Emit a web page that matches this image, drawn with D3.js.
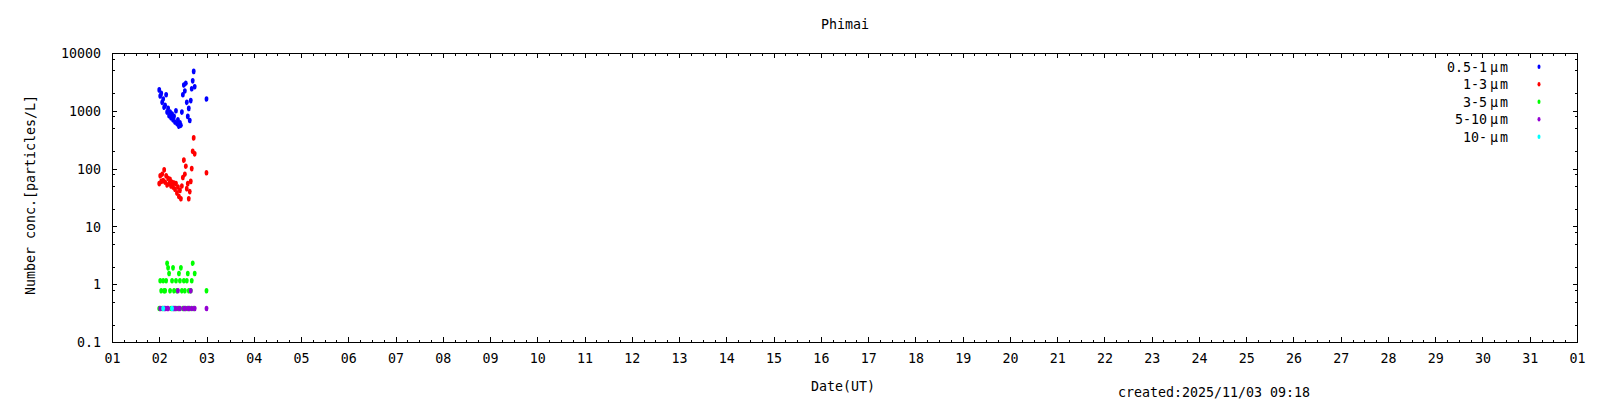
<!DOCTYPE html>
<html>
<head>
<meta charset="utf-8">
<script src="https://cdn.jsdelivr.net/npm/d3@7"></script>
<style>
  body { margin: 0; background: #fff; }
  svg { display: block; }
  text { font-family: "DejaVu Sans Mono", monospace; font-size: 13.3px; fill: #000; }
</style>
</head>
<body>
<svg id="chart" width="1600" height="400"></svg>
<script>
// hours after 2025-10-02 00:00 UT
var timesH = [0, 0.5, 1, 1.5, 2, 2.5, 3, 3.5, 4, 4.5, 5, 5.5, 6, 6.5, 7, 7.5, 8, 8.5, 9, 9.5,
  10, 10.5, 11, 11.5, 12, 12.5, 13, 13.5, 14, 14.5, 15, 15.5, 16, 16.5, 17, 17.5, 18, 24];

var pm05_1 = [2300, 1800, 2000, 1400, 1600, 1150, 1250, 1900, 950, 1100, 820, 950, 760, 880, 700, 800, 640, 1000, 600, 700,
  540, 620, 560, 950, 1900, 2800, 2200, 3000, 1400, 800, 1100, 680, 1500, 2400, 3300, 4800, 2600, 1600];
var pm1_3 = [55, 75, 60, 80, 62, 95, 58, 75, 52, 68, 55, 65, 50, 58, 48, 56, 44, 55, 38, 48,
  33, 42, 30, 50, 70, 140, 80, 110, 45, 55, 30, 40, 60, 100, 200, 340, 180, 85];
var pm3_5 = [0.38, 1.15, 0.77, 0.38, 1.15, 0.77, 0.77, 1.15, 2.3, 1.92, 1.53, 0.77, 0.38, 1.15, 1.92, 0.77, 0.38, 1.15, 0.77, 0.38,
  1.53, 1.15, 1.92, 0.77, 0.38, 1.15, 0.77, 0.38, 1.15, 1.53, 0.77, 0.38, 0.77, 1.15, 2.3, 0.38, 1.53, 0.77];
var pm5_10 = [0, 0.38, 0, 0, 0, 0.38, 0.38, 0, 0.38, 0.38, 0, 0, 0, 0, 0.38, 0.38, 0, 0.38, 0, 0.77,
  0.38, 0.38, 0, 0, 0, 0.38, 0.38, 0, 0, 0.38, 0.38, 0, 0.77, 0.38, 0, 0, 0.38, 0.38];
var pm10 = [0, 0, 0, 0, 0.38, 0, 0, 0, 0, 0, 0, 0, 0, 0.38, 0, 0, 0, 0, 0, 0,
  0, 0, 0, 0, 0, 0, 0, 0, 0, 0, 0, 0, 0, 0, 0, 0, 0, 0];

var seriesNames = ["0.5-1", "1-3", "3-5", "5-10", "10-"];
var seriesValues = [pm05_1, pm1_3, pm3_5, pm5_10, pm10];
var seriesColors = ["#0000ff", "#ff0000", "#00ff00", "#9400d3", "#00ffff"];

var yMajor = [0.1, 1, 10, 100, 1000, 10000];
var yMinorMult = [2, 5, 8];

var margin = {left: 112, right: 1577, top: 53, bottom: 342};

var svg = d3.select("#chart");

var x = d3.scaleUtc()
  .domain([new Date(Date.UTC(2025, 9, 1)), new Date(Date.UTC(2025, 10, 1))])
  .range([margin.left, margin.right]);

var y = d3.scaleLog()
  .domain([0.1, 10000])
  .range([margin.bottom, margin.top]);

var t0 = Date.UTC(2025, 9, 2);

var yMinor = [];
yMajor.slice(0, -1).forEach(function(d){
  yMinorMult.forEach(function(m){ yMinor.push(d * m); });
});

function strip(g){
  g.attr("font-size", null).attr("font-family", null);
  g.select(".domain").remove();
  g.selectAll(".tick line").attr("stroke", "#000").attr("shape-rendering", "crispEdges");
  g.selectAll("text").attr("fill", "#000").style("font-size", "13.3px");
}

// x axes (bottom with labels, top mirrored)
svg.append("g")
  .attr("transform", "translate(0," + margin.bottom + ")")
  .call(d3.axisBottom(x).ticks(d3.utcHour.every(6)).tickFormat("").tickSize(-2.5))
  .call(strip);
svg.append("g")
  .attr("transform", "translate(0," + margin.bottom + ")")
  .call(d3.axisBottom(x).ticks(d3.utcDay.every(1)).tickFormat(d3.utcFormat("%d")).tickSize(-5))
  .call(strip)
  .selectAll("text").attr("dy", null).attr("y", 21);
svg.append("g")
  .attr("transform", "translate(0," + margin.top + ")")
  .call(d3.axisTop(x).ticks(d3.utcHour.every(6)).tickFormat("").tickSize(-2.5))
  .call(strip);
svg.append("g")
  .attr("transform", "translate(0," + margin.top + ")")
  .call(d3.axisTop(x).ticks(d3.utcDay.every(1)).tickFormat("").tickSize(-5))
  .call(strip);

// y axes
svg.append("g")
  .attr("transform", "translate(" + margin.left + ",0)")
  .call(d3.axisLeft(y).tickValues(yMinor).tickFormat("").tickSize(-2.5))
  .call(strip);
svg.append("g")
  .attr("transform", "translate(" + margin.left + ",0)")
  .call(d3.axisLeft(y).tickValues(yMajor).tickFormat(function(d){ return d < 1 ? "0.1" : d3.format("d")(d); }).tickSize(-4.5))
  .call(strip)
  .selectAll("text").attr("x", -11).attr("dy", "0.36em");
svg.append("g")
  .attr("transform", "translate(" + margin.right + ",0)")
  .call(d3.axisRight(y).tickValues(yMinor).tickFormat("").tickSize(-2.5))
  .call(strip);
svg.append("g")
  .attr("transform", "translate(" + margin.right + ",0)")
  .call(d3.axisRight(y).tickValues(yMajor).tickFormat("").tickSize(-4.5))
  .call(strip);

// border
svg.append("rect")
  .attr("x", margin.left + 0.5)
  .attr("y", margin.top + 0.5)
  .attr("width", margin.right - margin.left)
  .attr("height", margin.bottom - margin.top)
  .attr("fill", "none")
  .attr("stroke", "#000")
  .attr("shape-rendering", "crispEdges");

// points
seriesValues.forEach(function(vals, si){
  var pts = timesH.map(function(h, i){
    return {t: new Date(t0 + h * 3600e3), v: vals[i]};
  }).filter(function(d){ return d.v > 0; });
  svg.append("g")
    .attr("fill", seriesColors[si])
    .selectAll("ellipse")
    .data(pts)
    .join("ellipse")
      .attr("cx", function(d){ return x(d.t); })
      .attr("cy", function(d){ return y(d.v); })
      .attr("rx", 1.9)
      .attr("ry", 2.8);
});

// legend
var legend = svg.append("g");
seriesNames.forEach(function(name, i){
  var ly = 66.7 + i * 17.5;
  var txt = legend.append("text")
    .attr("x", 1508)
    .attr("y", ly + 4.8)
    .attr("text-anchor", "end");
  txt.append("tspan").text(name);
  txt.append("tspan").attr("dx", 3).text("μ");
  txt.append("tspan").attr("dx", 2).text("m");
  legend.append("ellipse")
    .attr("cx", 1539)
    .attr("cy", ly)
    .attr("rx", 1.5)
    .attr("ry", 2.3)
    .attr("fill", seriesColors[i]);
});

// texts
svg.append("text")
  .attr("x", 845).attr("y", 29)
  .attr("text-anchor", "middle")
  .text("Phimai");

svg.append("text")
  .attr("x", 843).attr("y", 391)
  .attr("text-anchor", "middle")
  .text("Date(UT)");

svg.append("text")
  .attr("transform", "translate(35,195) rotate(-90)")
  .attr("text-anchor", "middle")
  .text("Number conc.[particles/L]");

svg.append("text")
  .attr("x", 1118).attr("y", 397)
  .text("created:2025/11/03 09:18");
</script>
</body>
</html>
